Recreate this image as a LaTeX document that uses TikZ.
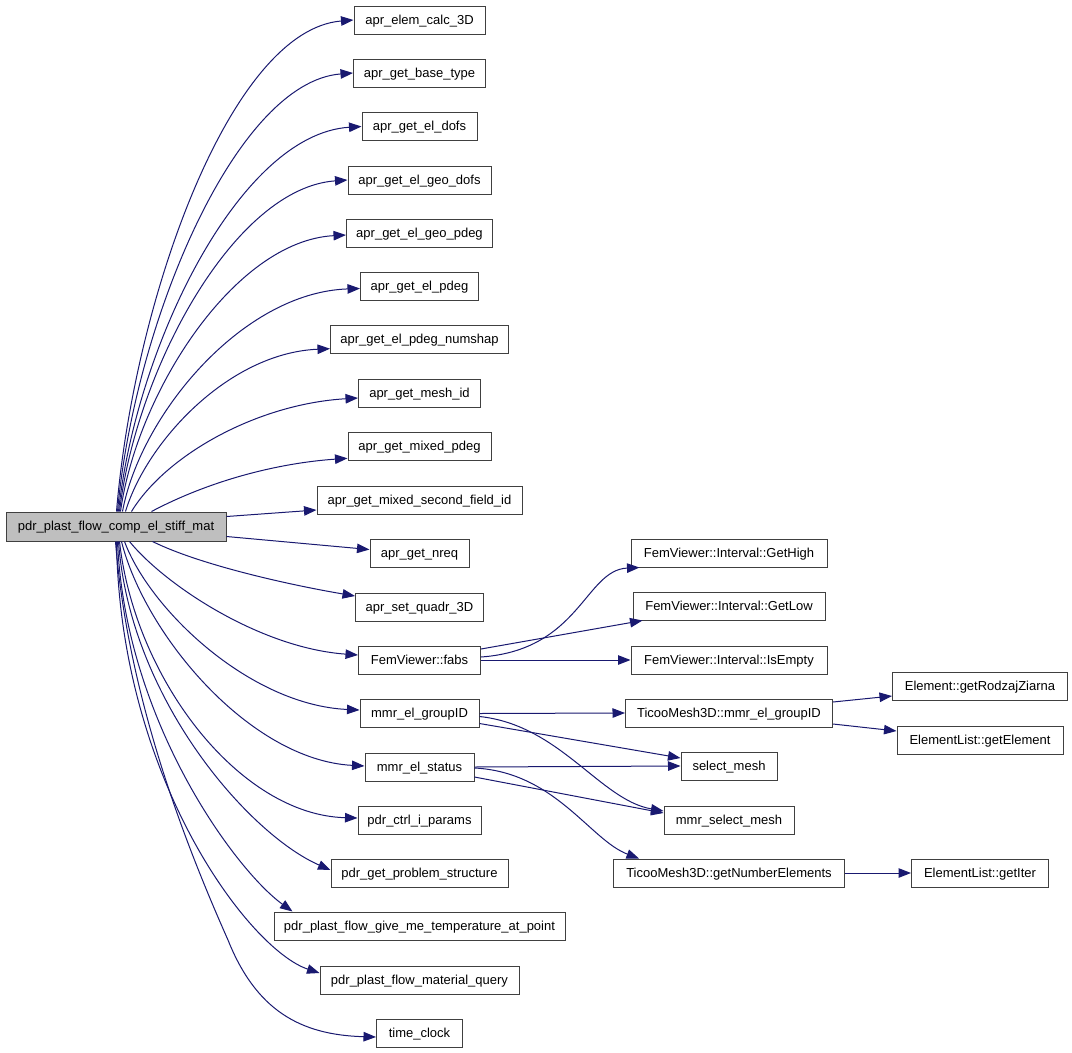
\documentclass[tikz,border=0pt]{standalone}
\usepackage{fontspec}
\setmainfont{Liberation Sans}
\usetikzlibrary{arrows.meta}
\definecolor{edgeblue}{HTML}{191970}
\definecolor{rootgray}{HTML}{BFBFBF}
\definecolor{boxline}{HTML}{404040}
\tikzset{
  box/.style={draw=boxline, line width=1pt, fill=white, minimum height=28pt,
    inner sep=0pt, text height=10pt, text depth=2pt, anchor=center,
    font=\fontsize{13pt}{15pt}\selectfont},
  rootbox/.style={box, fill=rootgray, minimum height=29pt},
  edge/.style={draw=edgeblue, line width=1pt, -{Triangle[length=12.5pt,width=9.5pt]}}
}
\begin{document}
\begin{tikzpicture}[x=1pt,y=-1pt]
\useasboundingbox (0,0) rectangle (1072,1053);
\fill[white] (0,0) rectangle (1072,1053);
% root
\node[rootbox, minimum width=220pt] (r) at (116,526.5) {pdr\_plast\_flow\_comp\_el\_stiff\_mat};
% left column
\node[box, minimum width=131pt] (n0) at (419.5,20) {apr\_elem\_calc\_3D};
\node[box, minimum width=132pt] (n1) at (419.5,73) {apr\_get\_base\_type};
\node[box, minimum width=115pt] (n2) at (419.5,126.5) {apr\_get\_el\_dofs};
\node[box, minimum width=143pt] (n3) at (419.5,180) {apr\_get\_el\_geo\_dofs};
\node[box, minimum width=146pt] (n4) at (419.5,233) {apr\_get\_el\_geo\_pdeg};
\node[box, minimum width=118pt] (n5) at (419.5,286.5) {apr\_get\_el\_pdeg};
\node[box, minimum width=178pt] (n6) at (419.5,339.7) {apr\_get\_el\_pdeg\_numshap};
\node[box, minimum width=122pt] (n7) at (419.5,393) {apr\_get\_mesh\_id};
\node[box, minimum width=143pt] (n8) at (419.5,446.3) {apr\_get\_mixed\_pdeg};
\node[box, minimum width=205pt] (n9) at (419.5,500) {apr\_get\_mixed\_second\_field\_id};
\node[box, minimum width=99pt] (n10) at (419.5,553.5) {apr\_get\_nreq};
\node[box, minimum width=128pt] (n11) at (419.5,607) {apr\_set\_quadr\_3D};
\node[box, minimum width=122pt] (n12) at (419.5,660) {FemViewer::fabs};
\node[box, minimum width=119pt] (n13) at (419.5,713.5) {mmr\_el\_groupID};
\node[box, minimum width=109pt] (n14) at (419.5,767) {mmr\_el\_status};
\node[box, minimum width=123pt] (n15) at (419.5,820) {pdr\_ctrl\_i\_params};
\node[box, minimum width=177pt] (n16) at (419.5,873) {pdr\_get\_problem\_structure};
\node[box, minimum width=291pt] (n17) at (419.5,926) {pdr\_plast\_flow\_give\_me\_temperature\_at\_point};
\node[box, minimum width=199pt] (n18) at (419.5,980) {pdr\_plast\_flow\_material\_query};
\node[box, minimum width=86pt] (n19) at (419.5,1033) {time\_clock};
% middle column
\node[box, minimum width=196pt] (g1) at (729,553) {FemViewer::Interval::GetHigh};
\node[box, minimum width=192pt] (g2) at (729,606) {FemViewer::Interval::GetLow};
\node[box, minimum width=196pt] (g3) at (729,660) {FemViewer::Interval::IsEmpty};
\node[box, minimum width=207pt] (t1) at (729,713) {TicooMesh3D::mmr\_el\_groupID};
\node[box, minimum width=96pt] (s1) at (729,766) {select\_mesh};
\node[box, minimum width=130pt] (s2) at (729,820) {mmr\_select\_mesh};
\node[box, minimum width=231pt] (t2) at (729,873) {TicooMesh3D::getNumberElements};
% right column
\node[box, minimum width=175pt] (e1) at (980,686) {Element::getRodzajZiarna};
\node[box, minimum width=166pt] (e2) at (980,740) {ElementList::getElement};
\node[box, minimum width=137pt] (e3) at (980,873) {ElementList::getIter};
% edges from root, upper side
\draw[edge] ([xshift=111pt]r.north west) .. controls (134,300) and (230,30) .. (n0.west);
\draw[edge] ([xshift=112pt]r.north west) .. controls (134.5,323) and (235.5,82) .. (n1.west);
\draw[edge] ([xshift=113pt]r.north west) .. controls (136,346) and (239.5,134) .. (n2.west);
\draw[edge] ([xshift=114pt]r.north west) .. controls (136,370) and (234,188) .. (n3.west);
\draw[edge] ([xshift=115pt]r.north west) .. controls (137,393) and (234,241) .. ([yshift=-2pt]n4.west);
\draw[edge] ([xshift=117pt]r.north west) .. controls (140,416) and (241.5,292.5) .. ([yshift=-2pt]n5.west);
\draw[edge] ([xshift=120pt]r.north west) .. controls (146.5,442) and (228.5,353) .. ([yshift=-9pt]n6.west);
\draw[edge] ([xshift=126pt]r.north west) .. controls (166,455) and (257,404) .. ([yshift=-5pt]n7.west);
\draw[edge] ([xshift=146pt]r.north west) .. controls (211,480) and (279,463) .. ([yshift=-12pt]n8.west);
\draw[edge] ([yshift=10pt]r.east) -- ([yshift=-10pt]n9.west);
\draw[edge] ([yshift=-10pt]r.east) -- ([yshift=4pt]n10.west);
% edges from root, lower side
\draw[edge] ([xshift=147pt]r.south west) .. controls (200,565) and (290,585) .. ([yshift=11pt]n11.west);
\draw[edge] ([xshift=124pt]r.south west) .. controls (165,585) and (260,648) .. ([yshift=5pt]n12.west);
\draw[edge] ([xshift=119pt]r.south west) .. controls (150,610) and (250,705) .. ([yshift=3.5pt]n13.west);
\draw[edge] ([xshift=116pt]r.south west) .. controls (145,635) and (250,760) .. ([yshift=1pt]n14.west);
\draw[edge] ([xshift=114pt]r.south west) .. controls (135,680) and (240,815) .. ([yshift=2pt]n15.west);
\draw[edge] ([xshift=113pt]r.south west) .. controls (130,700) and (250,835) .. ([yshift=3pt]n16.west);
\draw[edge] ([xshift=112pt]r.south west) .. controls (125,720) and (235,870) .. ([xshift=19pt]n17.north west);
\draw[edge] ([xshift=111pt]r.south west) .. controls (120,780) and (250,950) .. ([yshift=7pt]n18.west);
\coordinate (tcmid) at (228,940);
\draw[edge] ([xshift=110pt]r.south west) .. controls (128,700) and (188,850) .. (tcmid)
  .. controls (256,1010) and (300,1035) .. ([yshift=-4pt]n19.west);
% FemViewer::fabs
\draw[edge] ([yshift=3pt]n12.east) .. controls (580,650) and (585,570) .. ([xshift=9pt]g1.south west);
\draw[edge] ([yshift=11pt]n12.east) -- ([xshift=10pt]g2.south west);
\draw[edge] (n12.east) -- (g3.west);
% mmr_el_groupID
\draw[edge] (n13.east) -- (t1.west);
\draw[edge] ([yshift=-10pt]n13.east) -- ([yshift=8pt]s1.west);
\draw[edge] ([yshift=-3pt]n13.east) .. controls (560,725) and (600,800) .. ([yshift=9pt]s2.west);
% mmr_el_status
\draw[edge] (n14.east) -- (s1.west);
\draw[edge] ([yshift=-10pt]n14.east) -- ([yshift=7pt]s2.west);
\draw[edge] ([yshift=-1pt]n14.east) .. controls (555,772) and (590,840) .. ([xshift=26pt]t2.north west);
% right side
\draw[edge] ([yshift=11pt]t1.east) -- ([yshift=-10pt]e1.west);
\draw[edge] ([yshift=-11pt]t1.east) -- ([yshift=9pt]e2.west);
\draw[edge] (t2.east) -- (e3.west);
\end{tikzpicture}
\end{document}
